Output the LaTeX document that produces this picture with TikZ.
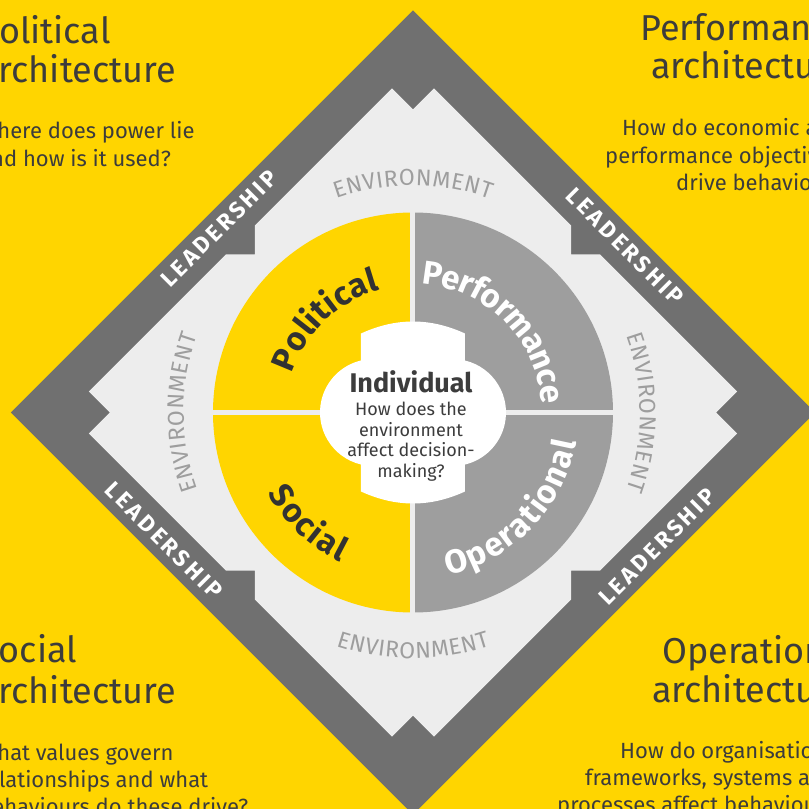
\documentclass[tikz,border=0pt]{standalone}
\usepackage{fontspec}
\setmainfont{Fira Sans}
\definecolor{eyyellow}{RGB}{255,213,0}
\definecolor{banddark}{RGB}{112,112,112}
\definecolor{bandlight}{RGB}{237,237,237}
\definecolor{quadgray}{RGB}{158,158,158}
\definecolor{textdark}{RGB}{60,60,60}
\definecolor{quaddark}{RGB}{50,50,50}
\definecolor{envgray}{RGB}{158,158,158}

\newcommand\eyTitleFont{\fontsize{36}{40}\selectfont}
\newcommand\eySubFont{\fontsize{22}{27}\selectfont}
\newcommand\eyLeadFont{\bfseries\fontsize{23}{25}\selectfont\addfontfeatures{LetterSpace=13}}
\newcommand\eyEnvFont{\color{envgray}\fontsize{23}{25}\selectfont}
\newcommand\eyQuadDark{\color{quaddark}\bfseries\fontsize{33}{35}\selectfont}
\newcommand\eyQuadWhite{\color{white}\bfseries\fontsize{33}{35}\selectfont}
\newcommand\eyIndFont{\bfseries\fontsize{27}{30}\selectfont}
\newcommand\eyCtrFont{\fontsize{18}{21}\selectfont}

\newsavebox\awbox
\newdimen\awdim
\makeatletter
% measure letters outside the picture: #1 id, #2 font, #3 tracking (pt), #4 letters
\newcommand\prepword[4]{%
  \global\awdim=0pt
  \gdef\aw@list{}%
  \foreach \aw@c in {#4}{%
    \sbox\awbox{#2\aw@c}%
    \global\advance\awdim by \wd\awbox
    \global\advance\awdim by #3pt
    \ifx\aw@list\@empty
      \xdef\aw@list{\strip@pt\wd\awbox/\aw@c}%
    \else
      \xdef\aw@list{\aw@list,\strip@pt\wd\awbox/\aw@c}%
    \fi
  }%
  \global\advance\awdim by -#3pt
  \expandafter\xdef\csname aw@tot@#1\endcsname{\strip@pt\awdim}%
  \expandafter\global\expandafter\let\csname aw@list@#1\endcsname\aw@list
}
% draw inside the picture: #1 id, #2 radius, #3 centre angle, #4 dir (1 tops out, -1 tops in), #5 tracking, #6 font
\newcommand\drawword[6]{%
  \pgfmathsetmacro\aw@s{-0.5*\csname aw@tot@#1\endcsname}%
  \xdef\aw@pos{\aw@s}%
  \expandafter\let\expandafter\aw@tmplist\csname aw@list@#1\endcsname
  \foreach \aw@w/\aw@c in \aw@tmplist {%
    \pgfmathsetmacro\aw@ang{#3-(#4)*(\aw@pos+\aw@w/2)/#2*180/pi}%
    \pgfmathsetmacro\aw@rot{\aw@ang-(#4)*90}%
    \node[anchor=base,inner sep=0pt,rotate=\aw@rot] at (\aw@ang:#2) {#6\aw@c};%
    \pgfmathsetmacro\aw@n{\aw@pos+\aw@w+#5}%
    \xdef\aw@pos{\aw@n}%
  }%
}
\makeatother

\begin{document}
\prepword{pol}{\eyQuadDark}{0.3}{P,o,l,i,t,i,c,a,l}%
\prepword{perf}{\eyQuadWhite}{-0.8}{P,e,r,f,o,r,m,a,n,c,e}%
\prepword{soc}{\eyQuadDark}{2}{S,o,c,i,a,l}%
\prepword{oper}{\eyQuadWhite}{1.5}{O,p,e,r,a,t,i,o,n,a,l}%
\prepword{env}{\eyEnvFont}{0.6}{E,N,V,I,R,O,N,M,E,N,T}%
\begin{tikzpicture}[x=1pt,y=1pt,
  titletxt/.style={text=textdark,font=\eyTitleFont,inner sep=0pt,anchor=base west},
  subtxt/.style={text=textdark,font=\eySubFont,inner sep=0pt,anchor=base west},
  leadtxt/.style={text=white,font=\eyLeadFont,inner sep=0pt},
  ctrtxt/.style={text=textdark,font=\eyCtrFont,inner sep=0pt,anchor=base}]
\useasboundingbox (-413,-396.5) rectangle (396,412.5);
\fill[eyyellow] (-413,-396.5) rectangle (396,412.5);

% outer leadership diamond
\fill[banddark] (0,402) -- (-402,0) -- (0,-402) -- (402,0) -- cycle;
% environment layer
\fill[bandlight] (21,324) -- (0,303) -- (-21,324) -- (-158,187) -- (-158,158) -- (-187,158)
  -- (-324,21) -- (-303,0) -- (-324,-21) -- (-187,-158) -- (-158,-158) -- (-158,-187)
  -- (-21,-324) -- (0,-303) -- (21,-324) -- (158,-187) -- (158,-158) -- (187,-158)
  -- (324,-21) -- (303,0) -- (324,21) -- (187,158) -- (158,158) -- (158,187) -- cycle;

% quadrants
\fill[eyyellow] (0,0) -- (0,200) arc[start angle=90,end angle=180,radius=200] -- cycle;
\fill[quadgray] (0,0) -- (200,0) arc[start angle=0,end angle=90,radius=200] -- cycle;
\fill[eyyellow] (0,0) -- (-200,0) arc[start angle=180,end angle=270,radius=200] -- cycle;
\fill[quadgray] (0,0) -- (0,-200) arc[start angle=270,end angle=360,radius=200] -- cycle;
\draw[bandlight,line width=5] (-202,0) -- (202,0) (0,-202) -- (0,202);

% centre
\fill[white] (-52,79) .. controls (-17,95) and (17,95) .. (52,79) -- (52,52)
  arc[start angle=76.5,end angle=-76.5,radius=53.5] -- (52,-79)
  .. controls (17,-95) and (-17,-95) .. (-52,-79) -- (-52,-52)
  arc[start angle=256.5,end angle=103.5,radius=53.5] -- cycle;

\node[text=textdark,font=\eyIndFont,inner sep=0pt,anchor=base] (ind) at (-2,20) {Individual};
\node[ctrtxt] (c1) at (-2,-3) {How does the};
\node[ctrtxt] (c2) at (-2,-23.7) {environment};
\node[ctrtxt] (c3) at (-2,-44.4) {affect decision-};
\node[ctrtxt] (c4) at (-2,-65.1) {making?};

% quadrant words
\drawword{pol}{127}{133.5}{1}{0.3}{\eyQuadDark}
\drawword{perf}{129}{45}{1}{-0.8}{\eyQuadWhite}
\drawword{soc}{166}{226.6}{-1}{2}{\eyQuadDark}
\drawword{oper}{166}{316}{-1}{1.5}{\eyQuadWhite}

% environment words
\drawword{env}{227}{90}{1}{0.6}{\eyEnvFont}
\drawword{env}{229}{180}{1}{0.6}{\eyEnvFont}
\drawword{env}{227}{0}{1}{0.6}{\eyEnvFont}
\drawword{env}{246}{270}{-1}{0.6}{\eyEnvFont}

% leadership words
\node[leadtxt,rotate=45] (l1) at (-194,184) {LEADERSHIP};
\node[leadtxt,rotate=-45] (l2) at (212,166) {LEADERSHIP};
\node[leadtxt,rotate=-45] (l3) at (-249,-128) {LEADERSHIP};
\node[leadtxt,rotate=45] (l4) at (244,-134) {LEADERSHIP};

% corner texts
\node[titletxt] (pt1) at (-434,369) {Political};
\node[titletxt] (pt2) at (-434,330) {architecture};
\node[subtxt] (ps1) at (-434,274) {Where does power lie};
\node[subtxt] (ps2) at (-434,246) {and how is it used?};

\node[titletxt] (rt1) at (227,372) {Performance};
\node[titletxt] (rt2) at (238,334) {architecture};
\node[subtxt] (rs1) at (209,277) {How do economic and};
\node[subtxt] (rs2) at (192,249) {performance objectives};
\node[subtxt] (rs3) at (263,222) {drive behaviour?};

\node[titletxt] (st1) at (-434,-250) {Social};
\node[titletxt] (st2) at (-434,-291) {architecture};
\node[subtxt] (ss1) at (-434,-348) {What values govern};
\node[subtxt] (ss2) at (-434,-375) {relationships and what};
\node[subtxt] (ss3) at (-434,-402) {behaviours do these drive?};

\node[titletxt] (ot1) at (249,-251) {Operational};
\node[titletxt] (ot2) at (239,-290) {architecture};
\node[subtxt] (os1) at (207,-346) {How do organisational};
\node[subtxt] (os2) at (172,-373) {frameworks, systems and};
\node[subtxt] (os3) at (144,-400) {processes affect behaviour?};
\end{tikzpicture}
\end{document}
